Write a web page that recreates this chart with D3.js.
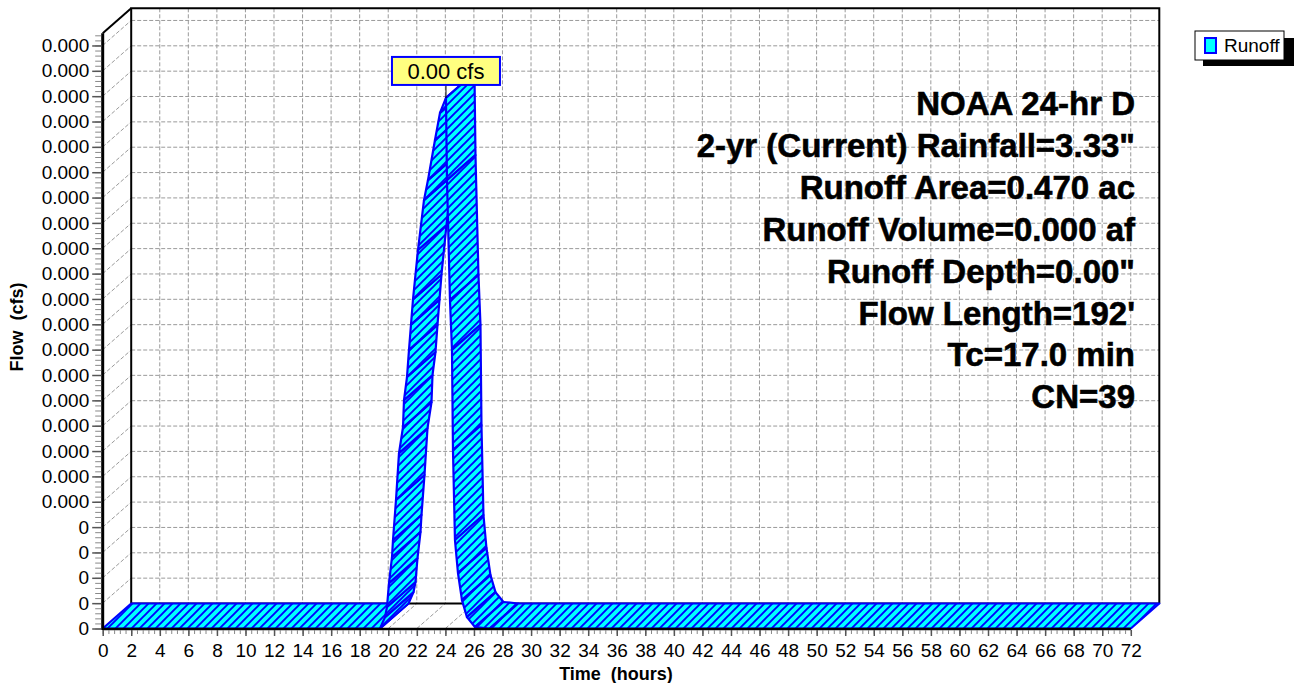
<!DOCTYPE html>
<html><head><meta charset="utf-8">
<script src="https://cdn.jsdelivr.net/npm/d3@7"></script>
<style>
body{margin:0;background:#fff}
svg{display:block}
text{font-family:"Liberation Sans",Arial,sans-serif}
</style>
</head><body><svg id="c" width="1294" height="683"></svg>
<script>
// ---- data ----
const hours = [0, 19.42, 19.77, 19.91, 20.05, 20.26, 20.33, 20.54, 20.75, 21.03, 21.10, 21.31, 21.45, 21.59, 21.73, 22.08, 22.50, 22.78, 23.27, 23.62, 24.04,
               24.11, 24.32, 24.46, 24.53, 24.67, 24.88, 25.16, 25.51, 26.07, 27.10, 72];
const flowsCfs = [0, 0, 0.0000045, 0.0000085, 0.0000179, 0.0000282, 0.0000349, 0.0000507, 0.0000692, 0.0000794, 0.0000901, 0.0000992, 0.0001099, 0.0001199, 0.0001298, 0.0001493, 0.0001690, 0.0001769, 0.0001927, 0.0002034, 0.0002093,
                  0.0001769, 0.0001296, 0.0001099, 0.0000704, 0.0000349, 0.0000219, 0.0000112, 0.0000045, 0.0000006, 0, 0];
const xTickValues = [0,2,4,6,8,10,12,14,16,18,20,22,24,26,28,30,32,34,36,38,40,42,44,46,48,50,52,54,56,58,60,62,64,66,68,70,72];
const yTickValues = [0,0.00001,0.00002,0.00003,0.00004,0.00005,0.00006,0.00007,0.00008,0.00009,0.00010,0.00011,0.00012,0.00013,0.00014,0.00015,0.00016,0.00017,0.00018,0.00019,0.00020,0.00021,0.00022,0.00023];
const yTickLabels = ["0","0","0","0","0","0.000","0.000","0.000","0.000","0.000","0.000","0.000","0.000","0.000","0.000","0.000","0.000","0.000","0.000","0.000","0.000","0.000","0.000","0.000"];
const infoLines = ["NOAA 24-hr D","2-yr (Current) Rainfall=3.33\"","Runoff Area=0.470 ac","Runoff Volume=0.000 af","Runoff Depth=0.00\"","Flow Length=192'","Tc=17.0 min","CN=39"];
const seriesName = "Runoff";
const peakLabel = "0.00 cfs";
const xTitle = "Time  (hours)";
const yTitle = "Flow  (cfs)";

// ---- layout ----
const DX = 28.5, DY = -25;
const x = d3.scaleLinear().domain([0,72]).range([102.7,1130.8]);
const y = d3.scaleLinear().domain([0,0.0002348]).range([628.5,33.3]);
const svg = d3.select("#c");
const x0 = x(0), x1 = x(72), y0 = y(0), yT = y(y.domain()[1]);

const defs = svg.append("defs");
const pat = defs.append("pattern").attr("id","hatch").attr("patternUnits","userSpaceOnUse").attr("width",8).attr("height",8);
pat.append("rect").attr("width",8).attr("height",8).attr("fill","#00ffff");
pat.append("path").attr("d","M-2,2L2,-2M0,8L8,0M6,10L10,6").attr("stroke","#0000ff").attr("stroke-width",1.9);

const grid = {stroke:"#9a9a9a","stroke-width":1,"stroke-dasharray":"4,2"};
function applyAttrs(sel,o){for(const k in o) sel.attr(k,o[k]); return sel;}

// back wall
svg.append("rect").attr("x",x0+DX).attr("y",yT+DY).attr("width",x1-x0).attr("height",y0-yT).attr("fill","#fff");
const g = svg.append("g");
xTickValues.filter(h=>h>0&&h<72).forEach(h=>{
  applyAttrs(g.append("line").attr("x1",x(h)+DX).attr("x2",x(h)+DX).attr("y1",yT+DY).attr("y2",y0+DY),grid);
});
yTickValues.filter(v=>v>0).forEach(v=>{
  applyAttrs(g.append("line").attr("x1",x0+DX).attr("x2",x1+DX).attr("y1",y(v)+DY).attr("y2",y(v)+DY),grid);
  applyAttrs(g.append("line").attr("x1",x0).attr("x2",x0+DX).attr("y1",y(v)).attr("y2",y(v)+DY),grid);
});
xTickValues.filter(h=>h>0).forEach(h=>{
  applyAttrs(g.append("line").attr("x1",x(h)).attr("x2",x(h)+DX).attr("y1",y0).attr("y2",y0+DY),grid);
});
svg.append("path").attr("d",`M${x0+DX},${y0+DY}V${yT+DY}H${x1+DX}V${y0+DY}`).attr("fill","none").attr("stroke","#000").attr("stroke-width",2);
svg.append("line").attr("x1",x0+DX).attr("x2",x1+DX).attr("y1",y0+DY).attr("y2",y0+DY).attr("stroke","#000").attr("stroke-width",2);
svg.append("line").attr("x1",x0).attr("y1",yT).attr("x2",x0+DX).attr("y2",yT+DY).attr("stroke","#000").attr("stroke-width",2);

// ribbon
const rib = svg.append("g");
for(let i=0;i<hours.length-1;i++){
  const a=[x(hours[i]),y(flowsCfs[i])], b=[x(hours[i+1]),y(flowsCfs[i+1])];
  rib.append("path")
    .attr("d",`M${a[0]},${a[1]}L${b[0]},${b[1]}L${b[0]+DX},${b[1]+DY}L${a[0]+DX},${a[1]+DY}Z`)
    .attr("fill","url(#hatch)").attr("stroke","#0000ff").attr("stroke-width",2.2).attr("stroke-linejoin","round");
}

// axes lines
svg.append("line").attr("x1",x0).attr("x2",x1).attr("y1",y0+0.5).attr("y2",y0+0.5).attr("stroke","#000").attr("stroke-width",2.5);
svg.append("line").attr("x1",x0).attr("x2",x0).attr("y1",yT).attr("y2",y0+1.5).attr("stroke","#000").attr("stroke-width",3);

// y axis
const yMinor = d3.range(0, y.domain()[1], 0.000002);
const ya = svg.append("g").attr("transform",`translate(${x0-1.5},0)`)
  .call(d3.axisLeft(y).tickValues(yMinor).tickSize(6).tickFormat(""));
ya.select(".domain").remove(); ya.selectAll("line").attr("stroke","#888");
const yb = svg.append("g").attr("transform",`translate(${x0-1.5},0)`)
  .call(d3.axisLeft(y).tickValues(yTickValues).tickSize(9).tickPadding(3).tickFormat((d,i)=>yTickLabels[i]));
yb.select(".domain").remove(); yb.selectAll("line").attr("stroke","#555").attr("stroke-width",1.5);
yb.selectAll("text").attr("font-size",19).attr("font-family","Liberation Sans, Arial, sans-serif").attr("fill","#000");

// x axis
const xMinor = d3.range(0, 72.01, 0.4);
const xa = svg.append("g").attr("transform",`translate(0,${y0+1.5})`)
  .call(d3.axisBottom(x).tickValues(xMinor).tickSize(4).tickFormat(""));
xa.select(".domain").remove(); xa.selectAll("line").attr("stroke","#888");
const xb = svg.append("g").attr("transform",`translate(0,${y0+1.5})`)
  .call(d3.axisBottom(x).tickValues(xTickValues).tickSize(6).tickPadding(8).tickFormat(d=>String(d)));
xb.select(".domain").remove(); xb.selectAll("line").attr("stroke","#555").attr("stroke-width",1.5);
xb.selectAll("text").attr("font-size",19).attr("font-family","Liberation Sans, Arial, sans-serif").attr("fill","#000");

// titles
svg.append("text").attr("x",616).attr("y",680).attr("text-anchor","middle").attr("font-weight","bold").attr("font-size",18)
  .style("white-space","pre").text(xTitle);
svg.append("text").attr("transform","translate(23,327) rotate(-90)").attr("text-anchor","middle").attr("font-weight","bold").attr("font-size",18)
  .style("white-space","pre").text(yTitle);

// info text
infoLines.forEach((t,i)=>{
  svg.append("text").attr("x",1135).attr("y",115+41.9*i).attr("text-anchor","end").attr("font-weight","bold")
    .attr("font-size",33).attr("fill","#000").attr("stroke","#000").attr("stroke-width",0.6).text(t);
});

// peak label
const pi = d3.maxIndex(flowsCfs);
const px = x(hours[pi]), py = y(flowsCfs[pi]);
svg.append("line").attr("x1",px).attr("x2",px).attr("y1",py-13).attr("y2",py).attr("stroke","#000").attr("stroke-width",1);
svg.append("rect").attr("x",px-54).attr("y",py-41).attr("width",108).attr("height",28).attr("fill","#ffff80").attr("stroke","#0000ff").attr("stroke-width",2);
svg.append("text").attr("x",px).attr("y",py-19).attr("text-anchor","middle").attr("font-size",22).attr("fill","#000").text(peakLabel);

// legend
svg.append("rect").attr("x",1203).attr("y",38).attr("width",91).attr("height",28).attr("fill","#000");
svg.append("rect").attr("x",1195).attr("y",31).attr("width",89).attr("height",29).attr("fill","#fff").attr("stroke","#000").attr("stroke-width",1);
svg.append("rect").attr("x",1205).attr("y",38).attr("width",11).attr("height",15).attr("fill","#00ffff").attr("stroke","#0000ff").attr("stroke-width",2);
svg.append("text").attr("x",1224).attr("y",52).attr("font-size",19).attr("fill","#000").text(seriesName);
</script>
</body></html>
